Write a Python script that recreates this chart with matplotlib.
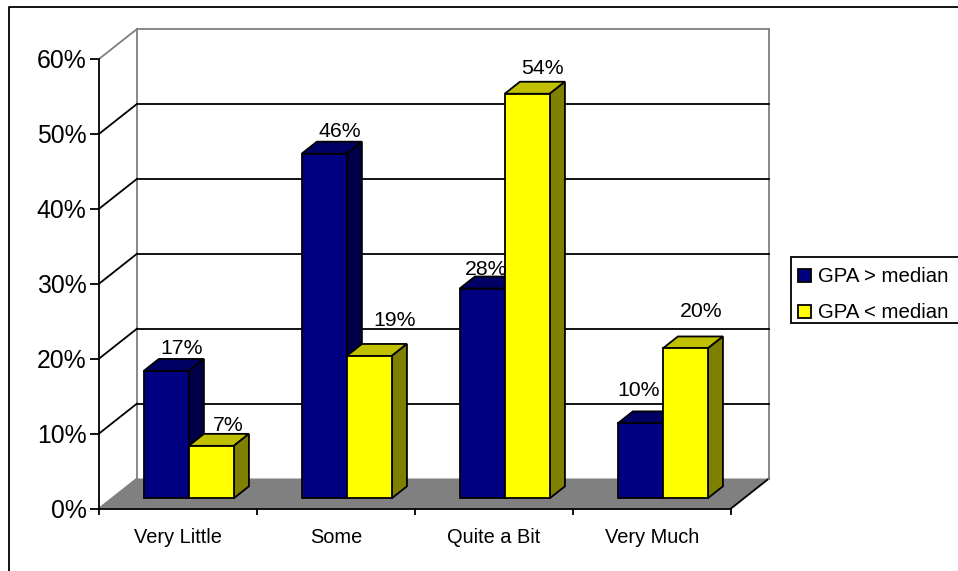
import matplotlib
matplotlib.use("Agg")
import matplotlib.pyplot as plt
from matplotlib.lines import Line2D
from matplotlib.patches import Patch, Polygon, Rectangle

plt.rcParams['font.family'] = ['Liberation Sans', 'DejaVu Sans']

categories = ['Very Little', 'Some', 'Quite a Bit', 'Very Much']
gpa_above = [17, 46, 28, 10]
gpa_below = [7, 19, 54, 20]
y_ticks = [0, 10, 20, 30, 40, 50, 60]

W, H = 958, 571
fig = plt.figure(figsize=(W / 100, H / 100), dpi=100)

# front plane of the fake 3d box, in pixels
left, right, bottom, top = 99, 731, 508.5, 59
ax = fig.add_axes([left / W, 1 - bottom / H, (right - left) / W, (bottom - top) / H])
ax.set_xlim(0, 4)
ax.set_ylim(0, 60)

# depth of the box in data units
depth_x = 38 / ((right - left) / 4)
depth_y = 30 / ((bottom - top) / 60)
bar_front = 0.34
bar_back = 0.74
bar_width = 0.285
group_center = 0.486
LW = 1.3


def project(x, y, d):
    return (x + d * depth_x, y + d * depth_y)


def face(points, color, z, edge='black'):
    ax.add_patch(Polygon(points, closed=True, facecolor=color, edgecolor=edge, linewidth=LW,
                         joinstyle='miter', clip_on=False, zorder=z))


def draw_line(p1, p2, color, z=1):
    ax.add_line(Line2D([p1[0], p2[0]], [p1[1], p2[1]], color=color, linewidth=LW,
                       clip_on=False, zorder=z))


def draw_bar(x0, value, front_c, top_c, side_c, z):
    x1 = x0 + bar_width
    face([project(x0, value, bar_front), project(x1, value, bar_front),
          project(x1, value, bar_back), project(x0, value, bar_back)], top_c, z)
    face([project(x1, 0, bar_front), project(x1, 0, bar_back),
          project(x1, value, bar_back), project(x1, value, bar_front)], side_c, z)
    face([project(x0, 0, bar_front), project(x1, 0, bar_front),
          project(x1, value, bar_front), project(x0, value, bar_front)], front_c, z)


# floor
face([project(0, 0, 0), project(0, 0, 1), project(4, 0, 1), project(4, 0, 0)], '#808080', 1, edge='none')
draw_line(project(0, 0, 0), project(0, 0, 1), '#808080', 2)
draw_line(project(4, 0, 0), project(4, 0, 1), 'black', 2)

# back wall outline
draw_line(project(0, 0, 1), project(0, 60, 1), '#808080', 2)
draw_line(project(0, 60, 1), project(4, 60, 1), '#808080', 2)
draw_line(project(4, 60, 1), project(4, 0, 1), '#808080', 2)
draw_line(project(0, 60, 0), project(0, 60, 1), '#808080', 2)

# gridlines run along the side wall and the back wall
for t in y_ticks[1:-1]:
    draw_line(project(0, t, 0), project(0, t, 1), 'black', 2)
    draw_line(project(0, t, 1), project(4, t, 1), 'black', 2)

z = 3
for i in range(len(categories)):
    x0 = i + group_center - bar_width
    draw_bar(x0, gpa_above[i], '#000080', '#000064', '#000048', z)
    draw_bar(x0 + bar_width, gpa_below[i], '#FFFF00', '#C0C000', '#808000', z + 1)
    z += 2

# label nudges in pixels, some labels sit off their bars
nudge_above = [(0, 5), (0, 5), (-11, 2), (-17, 15)]
nudge_below = [(2, 3), (10, 18), (0, 8), (1, 19)]
for i in range(len(categories)):
    x0 = i + group_center - bar_width
    for x, v, n in [(x0, gpa_above[i], nudge_above[i]), (x0 + bar_width, gpa_below[i], nudge_below[i])]:
        px, py = project(x + bar_width / 2, v, bar_back)
        ax.annotate('%d%%' % v, (px, py), xytext=(n[0] * 0.72, n[1] * 0.72), textcoords='offset points',
                    ha='center', va='baseline', fontsize=15.3, color='black', zorder=20,
                    annotation_clip=False)

for s in ['top', 'right']:
    ax.spines[s].set_visible(False)
for s in ['left', 'bottom']:
    ax.spines[s].set_linewidth(LW)
    ax.spines[s].set_zorder(15)
ax.patch.set_visible(False)

ax.set_yticks(y_ticks)
ax.set_yticklabels(['%d%%' % t for t in y_ticks], fontsize=17.8)
ax.tick_params(axis='y', length=6.5, width=LW, pad=2.5)
ax.set_xticks([0, 1, 2, 3, 4])
ax.set_xticklabels([])
ax.set_xticks([i + 0.5 for i in range(4)], minor=True)
ax.set_xticklabels(categories, minor=True, fontsize=14.4)
ax.tick_params(axis='x', which='major', length=4.5, width=LW)
ax.tick_params(axis='x', which='minor', length=0, pad=14)

# legend box runs off the right edge
fig.add_artist(Rectangle((791 / W, 1 - 323 / H), 200 / W, 66 / H, transform=fig.transFigure,
                         facecolor='white', edgecolor='black', linewidth=LW))
handles = [Patch(facecolor='#000080', edgecolor='black', linewidth=LW, label='GPA > median'),
           Patch(facecolor='#FFFF00', edgecolor='black', linewidth=LW, label='GPA < median')]
fig.legend(handles=handles, loc='upper left', bbox_to_anchor=(798 / W, 1 - 267.5 / H), frameon=False,
           fontsize=14.7, borderpad=0, borderaxespad=0, handlelength=0.62, handleheight=0.6,
           handletextpad=0.38, labelspacing=0.83)

# chart area border, only the left and top edges are inside the image
fig.add_artist(Line2D([9 / W, 9 / W, 1], [0, 1 - 7 / H, 1 - 7 / H], color='black', linewidth=LW,
                      transform=fig.transFigure))

fig.savefig('out.png', dpi=100)
